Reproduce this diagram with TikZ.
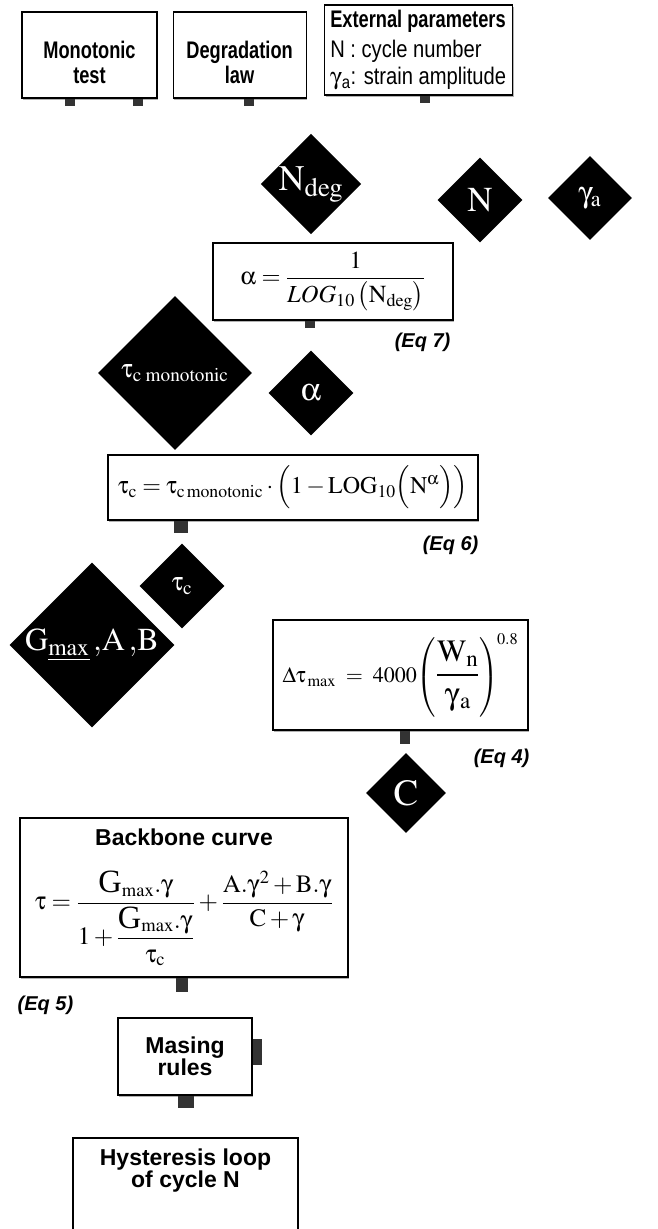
\documentclass[tikz,border=0pt]{standalone}
\usepackage{amsmath}
\usepackage{mathptmx}
\usepackage[Symbol]{upgreek}
\usepackage[no-math]{fontspec}
\setmainfont{Liberation Serif}
\setsansfont{Liberation Sans}
\newfontfamily\narrowsf{Liberation Sans}[FakeStretch=0.76]
\newfontfamily\semisf{Liberation Sans}[FakeStretch=0.84]
\usetikzlibrary{shapes.geometric,positioning,shadows}
\newcommand{\Gbig}{\scalebox{1.3}{G}}
\newcommand{\lowtext}{\rule{0pt}{32pt}}

\begin{document}
\begin{tikzpicture}[x=1pt, y=-1pt,
    block/.style={rectangle, draw, line width=1.1pt, fill=white, align=center, inner sep=0pt,
        drop shadow={shadow xshift=1.3pt, shadow yshift=-1.8pt, fill=black!60}},
    topbox/.style={block, font=\fontsize{24}{25}\narrowsf\bfseries},
    stepbox/.style={block, font=\fontsize{23}{22}\sffamily\bfseries},
    eqbox/.style={block, font=\fontsize{23}{27}\selectfont},
    param/.style={diamond, aspect=1, fill=black, text=white, inner sep=0pt},
    port/.style={fill=black!80, inner sep=0pt, minimum width=10pt, minimum height=7pt, anchor=north},
    eqlabel/.style={inner sep=0pt, font=\fontsize{20}{22}\sffamily\bfseries\itshape}]

    \useasboundingbox (0,0) rectangle (658,1229);
    \clip (0,0) rectangle (658,1229);

    % inputs
    \node[topbox, minimum width=135pt, minimum height=86pt] (mono) at (89.5,55) {\lowtext Monotonic\\test};
    \node[topbox, minimum width=133pt, minimum height=86pt, right=15pt of mono] (degr) {\lowtext Degradation\\law};
    \node[topbox, minimum width=188pt, minimum height=90pt, align=left, right=17pt of degr, yshift=5pt] (ext)
        {External parameters\\[5pt]
         {\fontsize{24}{22}\semisf\mdseries N : cycle number}\\[2pt]
         {\fontsize{24}{22}\semisf\mdseries $\upgamma$\textsubscript{a}: strain amplitude}};
    \node[port] (mono-p1) at ([xshift=-19.5pt]mono.south) {};
    \node[port] (mono-p2) at ([xshift=48.5pt]mono.south) {};
    \node[port] (degr-p) at ([xshift=9pt]degr.south) {};
    \node[port] (ext-p) at ([xshift=7pt]ext.south) {};

    % parameters
    \node[param, minimum size=98pt, font=\fontsize{36}{36}\selectfont] (ndeg) at (311,184) {$\mathrm{N}_{\mathrm{deg}}$};
    \node[param, minimum size=85pt, font=\fontsize{35}{35}\selectfont] (ncyc) at (480,200) {$\mathrm{N}$};
    \node[param, minimum size=84pt, font=\fontsize{30}{30}\selectfont] (gama) at (590,198) {$\upgamma_{\mathrm{a}}$};

    \node[eqbox, minimum width=240pt, minimum height=77pt, font=\fontsize{24.5}{27}\selectfont] (alphaeq) at (333,281.5)
        {$\upalpha = \dfrac{1}{\mathit{LOG}_{10}\left(\mathrm{N}_{\mathrm{deg}}\right)}$};
    \node[port] (alphaeq-p) at ([xshift=-23pt]alphaeq.south) {};
    \node[eqlabel, below left=12pt and 3pt of alphaeq.south east] (eq7) {(Eq 7)};

    \node[param, minimum size=154pt, font=\fontsize{26}{26}\selectfont] (taumono) at (175,373)
        {$\uptau_{\mathrm{c}\;\mathrm{monotonic}}$};
    \node[param, minimum size=85pt, font=\fontsize{32}{32}\selectfont] (alpha) at (311,393) {$\upalpha$};

    \node[eqbox, minimum width=370pt, minimum height=65pt, font=\fontsize{24}{27}\selectfont] (taueq) at (293,487.5)
        {$\uptau_{\mathrm{c}} = \uptau_{\mathrm{c\,monotonic}} \cdot \Bigl(1-\mathrm{LOG}_{10}\Bigl(\mathrm{N}^{\upalpha}\Bigr)\Bigr)$};
    \node[port, minimum width=14pt, minimum height=12pt] (taueq-p) at ([xshift=-112pt]taueq.south) {};
    \node[eqlabel, below left=15pt and 0pt of taueq.south east] (eq6) {(Eq 6)};

    \node[param, minimum size=85pt, font=\fontsize{26}{26}\selectfont] (tauc) at (182,586) {$\uptau_{\mathrm{c}}$};
    \node[param, minimum size=160pt, font=\fontsize{32}{32}\selectfont] (gab) at (92,645)
        {$\mathrm{G}_{\underline{\mathrm{max}}}\,,\!\mathrm{A}\,,\!\mathrm{B}$};

    \node[eqbox, minimum width=255pt, minimum height=110pt, font=\fontsize{22}{26}\selectfont] (dtaueq) at (400.5,675)
        {$\Delta\uptau_{\,\mathrm{max}} \;=\; 4000\!\left(\text{\fontsize{31}{36}\selectfont$\dfrac{\mathrm{W}_{\mathrm{n}}}{\upgamma_{\,\mathrm{a}}}$}\right)^{\!0.8}$};
    \node[port, minimum height=13pt] (dtaueq-p) at ([xshift=4.5pt]dtaueq.south) {};
    \node[eqlabel, below left=18pt and -1pt of dtaueq.south east] (eq4) {(Eq 4)};

    \node[param, minimum size=80pt, font=\fontsize{37}{37}\selectfont] (cpar) at (406,793) {$\mathrm{C}$};

    % law and output
    \node[eqbox, minimum width=328pt, minimum height=159pt, font=\fontsize{25}{27}\selectfont] (backbone) at (184,897.5)
        {{\fontsize{23}{24}\sffamily\bfseries Backbone curve}\\[24pt]
         $\uptau = \dfrac{\Gbig_{\mathrm{max}}.\upgamma}{1+\dfrac{\Gbig_{\mathrm{max}}.\upgamma}{\uptau_{\mathrm{c}}}}
           + \dfrac{\mathrm{A}.\upgamma^{2}+\mathrm{B}.\upgamma}{\mathrm{C}+\upgamma}$};
    \node[port, minimum width=12pt, minimum height=14pt] (backbone-p) at ([xshift=-2pt]backbone.south) {};
    \node[eqlabel, below right=18pt and -2pt of backbone.south west] (eq5) {(Eq 5)};

    \node[stepbox, minimum width=134pt, minimum height=77pt] (masing) at (185,1056.5) {Masing\\rules};
    \node[port, minimum width=16pt, minimum height=12pt] (masing-p1) at ([xshift=1pt]masing.south) {};
    \node[port, anchor=west, minimum width=9pt, minimum height=26pt] (masing-p2) at ([yshift=5pt]masing.east) {};

    \node[stepbox, minimum width=225pt, minimum height=120pt] (hyst) at (185.5,1198)
        {Hysteresis loop\\of cycle N\rule[-60pt]{0pt}{0pt}};
\end{tikzpicture}
\end{document}
